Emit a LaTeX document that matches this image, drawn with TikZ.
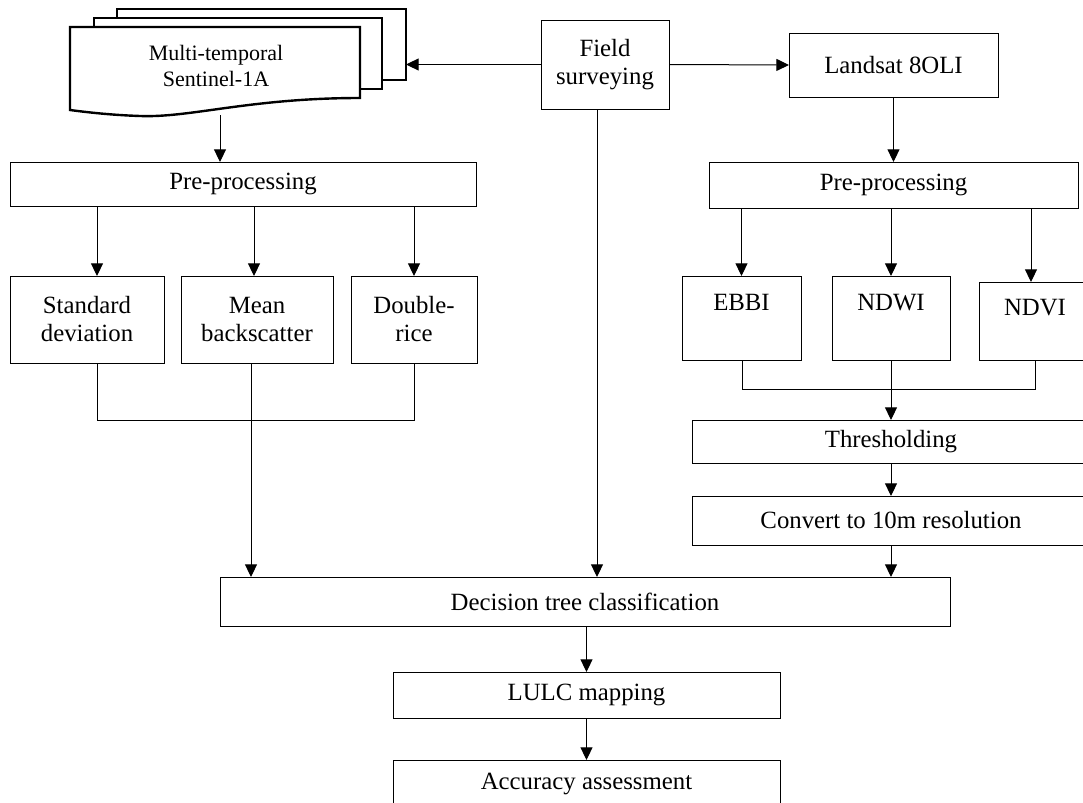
\documentclass[tikz,border=0pt]{standalone}
\usepackage{fontspec}
\setmainfont{Liberation Serif}
\usetikzlibrary{arrows.meta}
\tikzset{
  box/.style={draw,line width=0.75pt,inner sep=0pt,outer sep=0pt,align=center},
  sz/.style 2 args={minimum width=#1*0.75pt,minimum height=#2*0.75pt},
  arr/.style={line width=0.75pt,-{Triangle[length=9.5pt,width=9pt]}},
  ln/.style={line width=0.75pt},
  page/.style={draw,line width=1.8pt,fill=white}
}
\newcommand{\up}[2]{\raisebox{#1}[0pt][0pt]{#2}}

\begin{document}
\begin{tikzpicture}[x=0.75pt,y=-0.75pt,font=\fontsize{18.6}{21}\selectfont]
\useasboundingbox (0,0) rectangle (1083,803);
\draw[page] (117,9) rectangle (406,80);
\draw[page] (94,18) rectangle (382,89);
\draw[page] (70,27) -- (360,27) -- (360,98) .. controls (250,98) and (190,118) .. (140,116) .. controls (110,115) and (85,112) .. (70,110) -- cycle;
\node[align=center,font=\fontsize{16.5}{20}\selectfont] (s1) at (216,66) {Multi-temporal\\Sentinel-1A};
\coordinate (s1in) at (406,64.5); \coordinate (s1out) at (220,115);

\node[box,sz={128}{89}] (field) at (605,64.5) {Field\\surveying};
\node[box,sz={209}{64}] (landsat) at (893.5,65) {Landsat 8OLI};
\node[box,sz={466}{44}] (pre1) at (243,184) {Pre-processing};
\node[box,sz={369}{46}] (pre2) at (893.5,185) {Pre-processing};
\node[box,sz={154}{87}] (std) at (87,319.5) {Standard\\deviation};
\node[box,sz={152}{87}] (mean) at (257,319.5) {Mean\\backscatter};
\node[box,sz={126}{87}] (dbl) at (414,319.5) {Double-\\rice};
\node[box,sz={119}{84}] (ebbi) at (741.5,318) {\up{5.9pt}{EBBI}};
\node[box,sz={118}{84}] (ndwi) at (891,318) {\up{5.9pt}{NDWI}};
\node[box,sz={112}{78}] (ndvi) at (1035,321) {\up{4.4pt}{NDVI}};
\node[box,sz={398}{43}] (thr) at (891,441.5) {Thresholding};
\node[box,sz={398}{49}] (conv) at (891,520.5) {Convert to 10m resolution};
\node[box,sz={730}{49}] (dec) at (585,601.5) {Decision tree classification};
\node[box,sz={387}{46}] (lulc) at (586.5,695) {LULC mapping};
\node[box,sz={387}{48}] (acc) at (586.5,784) {Accuracy assessment};

\draw[arr] (field.west) -- (s1in);
\draw[arr] (field.east) -- (landsat.west);
\draw[arr] (s1out) -- (s1out |- pre1.north);
\draw[arr] ([xshift=7.5pt]std.north |- pre1.south) -- ([xshift=7.5pt]std.north);
\draw[arr] ([xshift=-2.25pt]mean.north |- pre1.south) -- ([xshift=-2.25pt]mean.north);
\draw[arr] (dbl.north |- pre1.south) -- (dbl.north);
\draw[ln] ([xshift=7.5pt]std.south) -- ++(0,57) -| (dbl.south);
\draw[arr] ([xshift=-4.5pt]mean.south) -- ([xshift=-4.5pt]mean.south |- dec.north);
\draw[arr] ([xshift=-6pt]field.south) -- ([xshift=-6pt]field.south |- dec.north);

\draw[arr] (landsat.south) -- (pre2.north);
\draw[arr] (ebbi.north |- pre2.south) -- (ebbi.north);
\draw[arr] (ndwi.north |- pre2.south) -- (ndwi.north);
\draw[arr] ([xshift=-3pt]ndvi.north |- pre2.south) -- ([xshift=-3pt]ndvi.north);
\draw[ln] ([xshift=1pt]ebbi.south) -- ++(0,29) -| (ndvi.south);
\draw[arr] (ndwi.south) -- (thr.north);
\draw[arr] (thr.south) -- (conv.north);
\draw[arr] (conv.south) -- (conv.south |- dec.north);
\draw[arr] (lulc.north |- dec.south) -- (lulc.north);
\draw[arr] (lulc.south) -- (acc.north);
\end{tikzpicture}
\end{document}
